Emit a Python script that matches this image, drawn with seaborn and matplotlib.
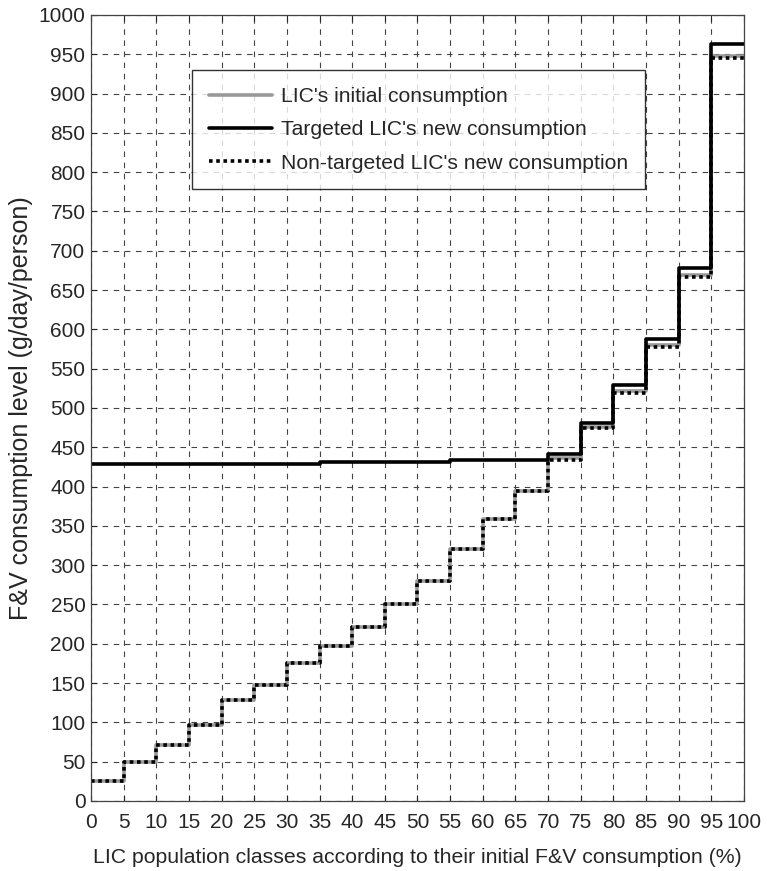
import numpy as np
import pandas as pd
import seaborn as sns
import matplotlib.pyplot as plt

# class edges (% of LIC population)
classes = list(range(0, 105, 5))

# consumption per class (g/day/person), one value per 5% class
initial = [25, 50, 71, 97, 128, 147, 176, 197, 221, 251,
           280, 320, 359, 395, 436, 476, 521, 580, 669, 948]
targeted = [429, 429, 429, 429, 429, 429, 429, 431, 431, 431,
            431, 434, 434, 434, 441, 481, 529, 588, 678, 963]
non_targeted = [25, 50, 71, 97, 128, 147, 176, 197, 221, 251,
                280, 320, 359, 394, 434, 474, 519, 577, 667, 945]

labels = ["LIC's initial consumption",
          "Targeted LIC's new consumption",
          "Non-targeted LIC's new consumption"]


def to_steps(vals):
    # repeat last value so the final step reaches 100%
    return vals + [vals[-1]]


df = pd.DataFrame({
    "x": classes * 3,
    "y": to_steps(initial) + to_steps(targeted) + to_steps(non_targeted),
    "series": [labels[0]] * 21 + [labels[1]] * 21 + [labels[2]] * 21,
})

sns.set_style("ticks")
plt.rcParams['font.family'] = ['Liberation Sans', 'DejaVu Sans']

fig = plt.figure(figsize=(7.67, 8.71), dpi=100)
ax = fig.add_axes([0.1186, 0.0804, 0.8514, 0.9024])

styles = {
    labels[0]: dict(color="#999999", lw=2.6, ls="-"),
    labels[1]: dict(color="black", lw=2.6, ls="-"),
    labels[2]: dict(color="black", lw=2.6, ls=(0, (1, 1))),
}
for name in labels:
    sub = df[df.series == name]
    sns.lineplot(data=sub, x="x", y="y", ax=ax, drawstyle="steps-post",
                 estimator=None, sort=False, label=name, **styles[name])

ax.set_xlim(0, 100)
ax.set_ylim(0, 1000)
ax.set_xticks(classes)
ax.set_yticks(np.arange(0, 1001, 50))
ax.tick_params(labelsize=15, direction="in", length=4, top=True, right=True)
ax.tick_params(axis="x", pad=9)
ax.tick_params(axis="y", pad=4)
ax.grid(True, ls=(0, (5, 5)), color="#444444", lw=0.8)
for sp in ax.spines.values():
    sp.set_color("#444444")
    sp.set_linewidth(0.9)

ax.set_xlabel("LIC population classes according to their initial F&V consumption (%)",
              fontsize=15.3, labelpad=11)
ax.set_ylabel("F&V consumption level (g/day/person)", fontsize=18, labelpad=4)

leg = ax.legend(loc="upper left", bbox_to_anchor=(0.155, 0.93), fontsize=15.2,
                frameon=True, fancybox=False, edgecolor="black",
                handlelength=3.0, borderpad=0.8, labelspacing=0.68,
                handletextpad=0.4, borderaxespad=0)
leg.get_frame().set_linewidth(1.0)

fig.savefig("out.png", dpi=100)
